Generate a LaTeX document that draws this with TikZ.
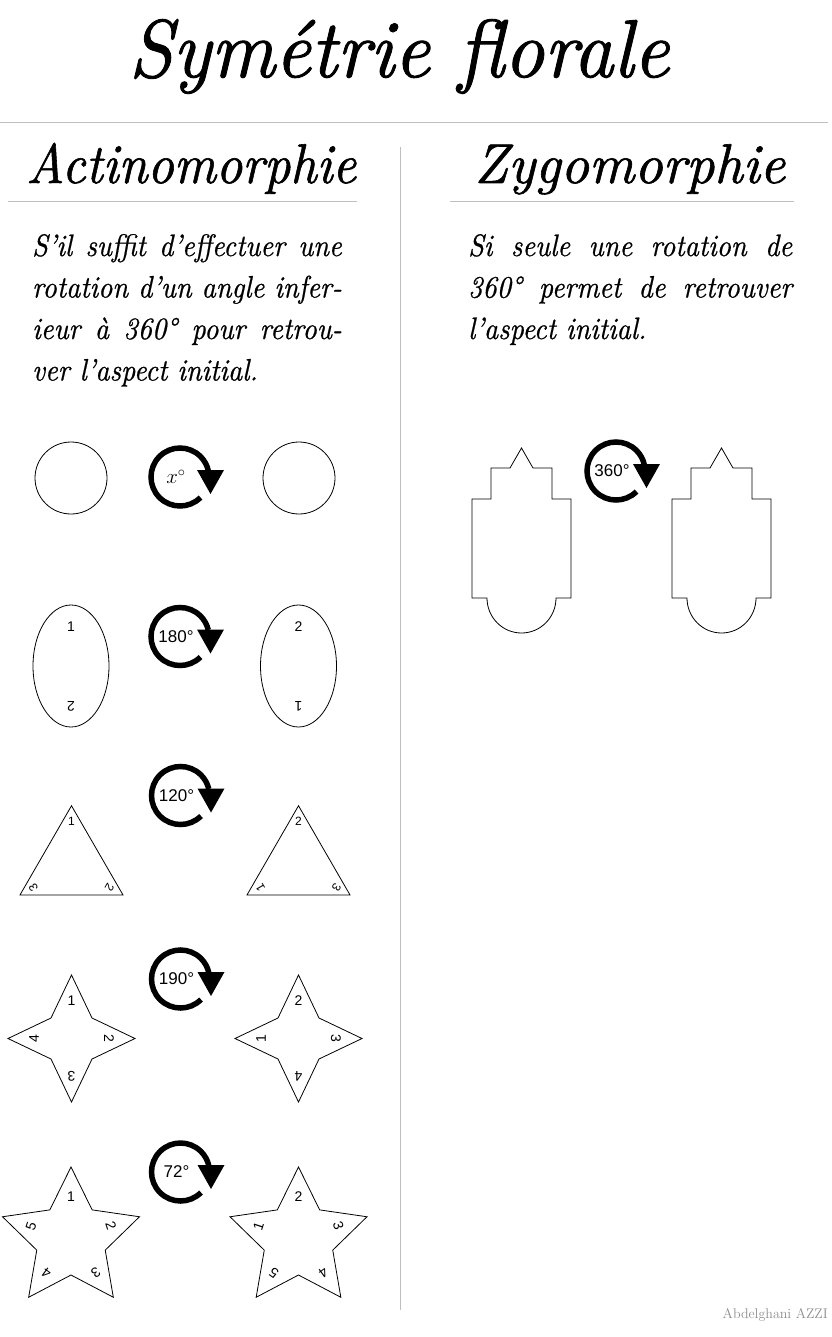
\documentclass[tikz,border=0pt]{standalone}
\usepackage{fontspec}
\newfontfamily\lsans{Liberation Sans}
\newfontfamily\heavyit{lmroman10-italic.otf}[FakeBold=1.1,Ligatures=TeX]
\newfontfamily\medit{lmroman10-italic.otf}[FakeBold=0.7,Ligatures=TeX]
\usetikzlibrary{calc}
\tikzset{
  rulegray/.style={draw=black!25, line width=1pt},
  petal/.style={draw=black, line width=0.8pt},
  numlbl/.style={font=\lsans\fontsize{14}{14}\selectfont, inner sep=0pt},
  smalllbl/.style={font=\lsans\fontsize{12}{12}\selectfont, inner sep=0pt},
  rottext/.style={font=\lsans\fontsize{17}{17}\selectfont, inner sep=0pt},
  rotarc/.style={draw=black, line width=5.5pt},
  hdr/.style={font=\heavyit\fontsize{56}{56}\selectfont, inner sep=0pt},
  para/.style={inner sep=0pt},
}
\newcommand\rotsym[4]{%
  \coordinate (#1) at (#2,#3);
  \draw[rotarc] ($(#1)+(45:29)$) arc[start angle=45, end angle=347, radius=29];
  \fill ($(#1)+(17,-7)$) -- ($(#1)+(44,-7)$) -- ($(#1)+(30.5,17)$) -- cycle;
  \node[rottext] (#1t) at ($(#1)+(-4,0)$) {#4};
}
\begin{document}
\begin{tikzpicture}[x=1pt,y=-1pt]
\useasboundingbox (0,0) rectangle (831,1337);

% title
\node[font=\heavyit\fontsize{82}{82}\selectfont, anchor=base, inner sep=0pt] (title) at (399,77) {\scalebox{0.955}[1]{Symétrie florale}};

% rules
\coordinate (r1a) at (0,123); \coordinate (r1b) at (828,123);
\draw[rulegray] (r1a) -- (r1b);
\coordinate (r2a) at (8,202); \coordinate (r2b) at (357,202);
\draw[rulegray] (r2a) -- (r2b);
\coordinate (r3a) at (450,202); \coordinate (r3b) at (794,202);
\draw[rulegray] (r3a) -- (r3b);
\coordinate (vA) at (400.5,147); \coordinate (vB) at (400.5,1310);
\draw[rulegray] (vA) -- (vB);

% headers
\node[hdr, anchor=base west] (act) at (26,183) {\scalebox{0.92}[1]{Actinomorphie}};
\node[hdr, anchor=base west] (zyg) at (474,183) {\scalebox{0.99}[1]{Zygomorphie}};

% paragraphs
\node[para, anchor=base west] (pleft) at (32,256) {\scalebox{0.9}[1]{\parbox[t]{344pt}{\fontsize{31}{41.5}\selectfont\medit
\makebox[344pt][s]{S'il suffit d'effectuer une}\\
\makebox[344pt][s]{rotation d'un angle infer-}\\
\makebox[344pt][s]{ieur à 360° pour retrou-}\\
ver l'aspect initial.}}};
\node[para, anchor=base west] (pright) at (468,256) {\scalebox{0.9}[1]{\parbox[t]{360pt}{\fontsize{31}{41.5}\selectfont\medit
\makebox[360pt][s]{Si seule une rotation de}\\
\makebox[360pt][s]{360° permet de retrouver}\\
l'aspect initial.}}};

% rotation symbols
\rotsym{ic1}{180}{477}{\normalfont\fontsize{21}{21}\selectfont$x^{\circ}$}
\rotsym{ic2}{180}{636.5}{180°}
\rotsym{ic3}{180.5}{795.5}{120°}
\rotsym{ic4}{180.5}{979}{190°}
\rotsym{ic5}{180.5}{1172}{72°}
\rotsym{ic6}{616}{471}{360°}

% row 1: circles
\node[petal, circle, minimum size=72pt, inner sep=0pt] (c1) at (71,478) {};
\node[petal, circle, minimum size=72pt, inner sep=0pt] (c2) at (299,478) {};

% row 2: ellipses
\begin{scope}[shift={(71,666)}]
  \draw[petal] (0,0) ellipse[x radius=38, y radius=61];
  \node[numlbl] (e1a) at (0,-39) {1};
  \node[numlbl, rotate=180] (e1b) at (0,40) {2};
\end{scope}
\begin{scope}[shift={(298.5,666)}]
  \draw[petal] (0,0) ellipse[x radius=38, y radius=61];
  \node[numlbl] (e2a) at (0,-39) {2};
  \node[numlbl, rotate=180] (e2b) at (0,40) {1};
\end{scope}

% row 3: triangles
\begin{scope}[shift={(71.5,865.25)}]
  \draw[petal] (-90:59.5) -- (30:59.5) -- (150:59.5) -- cycle;
  \foreach \lab/\ang [count=\i] in {1/-90, 2/30, 3/150}
    \node[smalllbl, rotate={-(\ang+90)}] (t1\i) at (\ang:44) {\lab};
\end{scope}
\begin{scope}[shift={(298.5,865.25)}]
  \draw[petal] (-90:59.5) -- (30:59.5) -- (150:59.5) -- cycle;
  \foreach \lab/\ang [count=\i] in {2/-90, 3/30, 1/150}
    \node[smalllbl, rotate={-(\ang+90)}] (t2\i) at (\ang:44) {\lab};
\end{scope}

% row 4: four-point stars
\begin{scope}[shift={(71.5,1038.5)}]
  \draw[petal] (-90:63.5) -- (-45:29) -- (0:63.5) -- (45:29) -- (90:63.5) -- (135:29) -- (180:63.5) -- (225:29) -- cycle;
  \foreach \lab/\ang [count=\i] in {1/-90, 2/0, 3/90, 4/180}
    \node[numlbl, rotate={-(\ang+90)}] (q1\i) at (\ang:37.5) {\lab};
\end{scope}
\begin{scope}[shift={(298.5,1038.5)}]
  \draw[petal] (-90:63.5) -- (-45:29) -- (0:63.5) -- (45:29) -- (90:63.5) -- (135:29) -- (180:63.5) -- (225:29) -- cycle;
  \foreach \lab/\ang [count=\i] in {2/-90, 3/0, 4/90, 1/180}
    \node[numlbl, rotate={-(\ang+90)}] (q2\i) at (\ang:37.5) {\lab};
\end{scope}

% row 5: five-point stars
\begin{scope}[shift={(71,1239)}]
  \draw[petal] (-90:72) -- (-54:36) -- (-18:72) -- (18:36) -- (54:72) -- (90:36) -- (126:72) -- (162:36) -- (198:72) -- (234:36) -- cycle;
  \foreach \lab/\ang [count=\i] in {1/-90, 2/-18, 3/54, 4/126, 5/198}
    \node[numlbl, rotate={-(\ang+90)}] (f1\i) at (\ang:42) {\lab};
\end{scope}
\begin{scope}[shift={(298.5,1239)}]
  \draw[petal] (-90:72) -- (-54:36) -- (-18:72) -- (18:36) -- (54:72) -- (90:36) -- (126:72) -- (162:36) -- (198:72) -- (234:36) -- cycle;
  \foreach \lab/\ang [count=\i] in {2/-90, 3/-18, 4/54, 5/126, 1/198}
    \node[numlbl, rotate={-(\ang+90)}] (f2\i) at (\ang:42) {\lab};
\end{scope}

% zygomorphic flowers
\foreach \dx in {0,200} {
  \begin{scope}[shift={(\dx,0)}]
    \draw[petal] (472,499) -- (491,499) -- (491,468) -- (510,468) -- (521.5,448) -- (533,468) -- (552,468) -- (552,499) -- (571,499) -- (571,598) -- (556,598) arc[start angle=0, end angle=180, x radius=34.5, y radius=35] -- (472,598) -- cycle;
  \end{scope}
}

% signature
\node[font=\fontsize{14}{14}\selectfont, text=black!45, anchor=base east, inner sep=0pt] (sig) at (828,1318) {Abdelghani AZZI};
\end{tikzpicture}
\end{document}
